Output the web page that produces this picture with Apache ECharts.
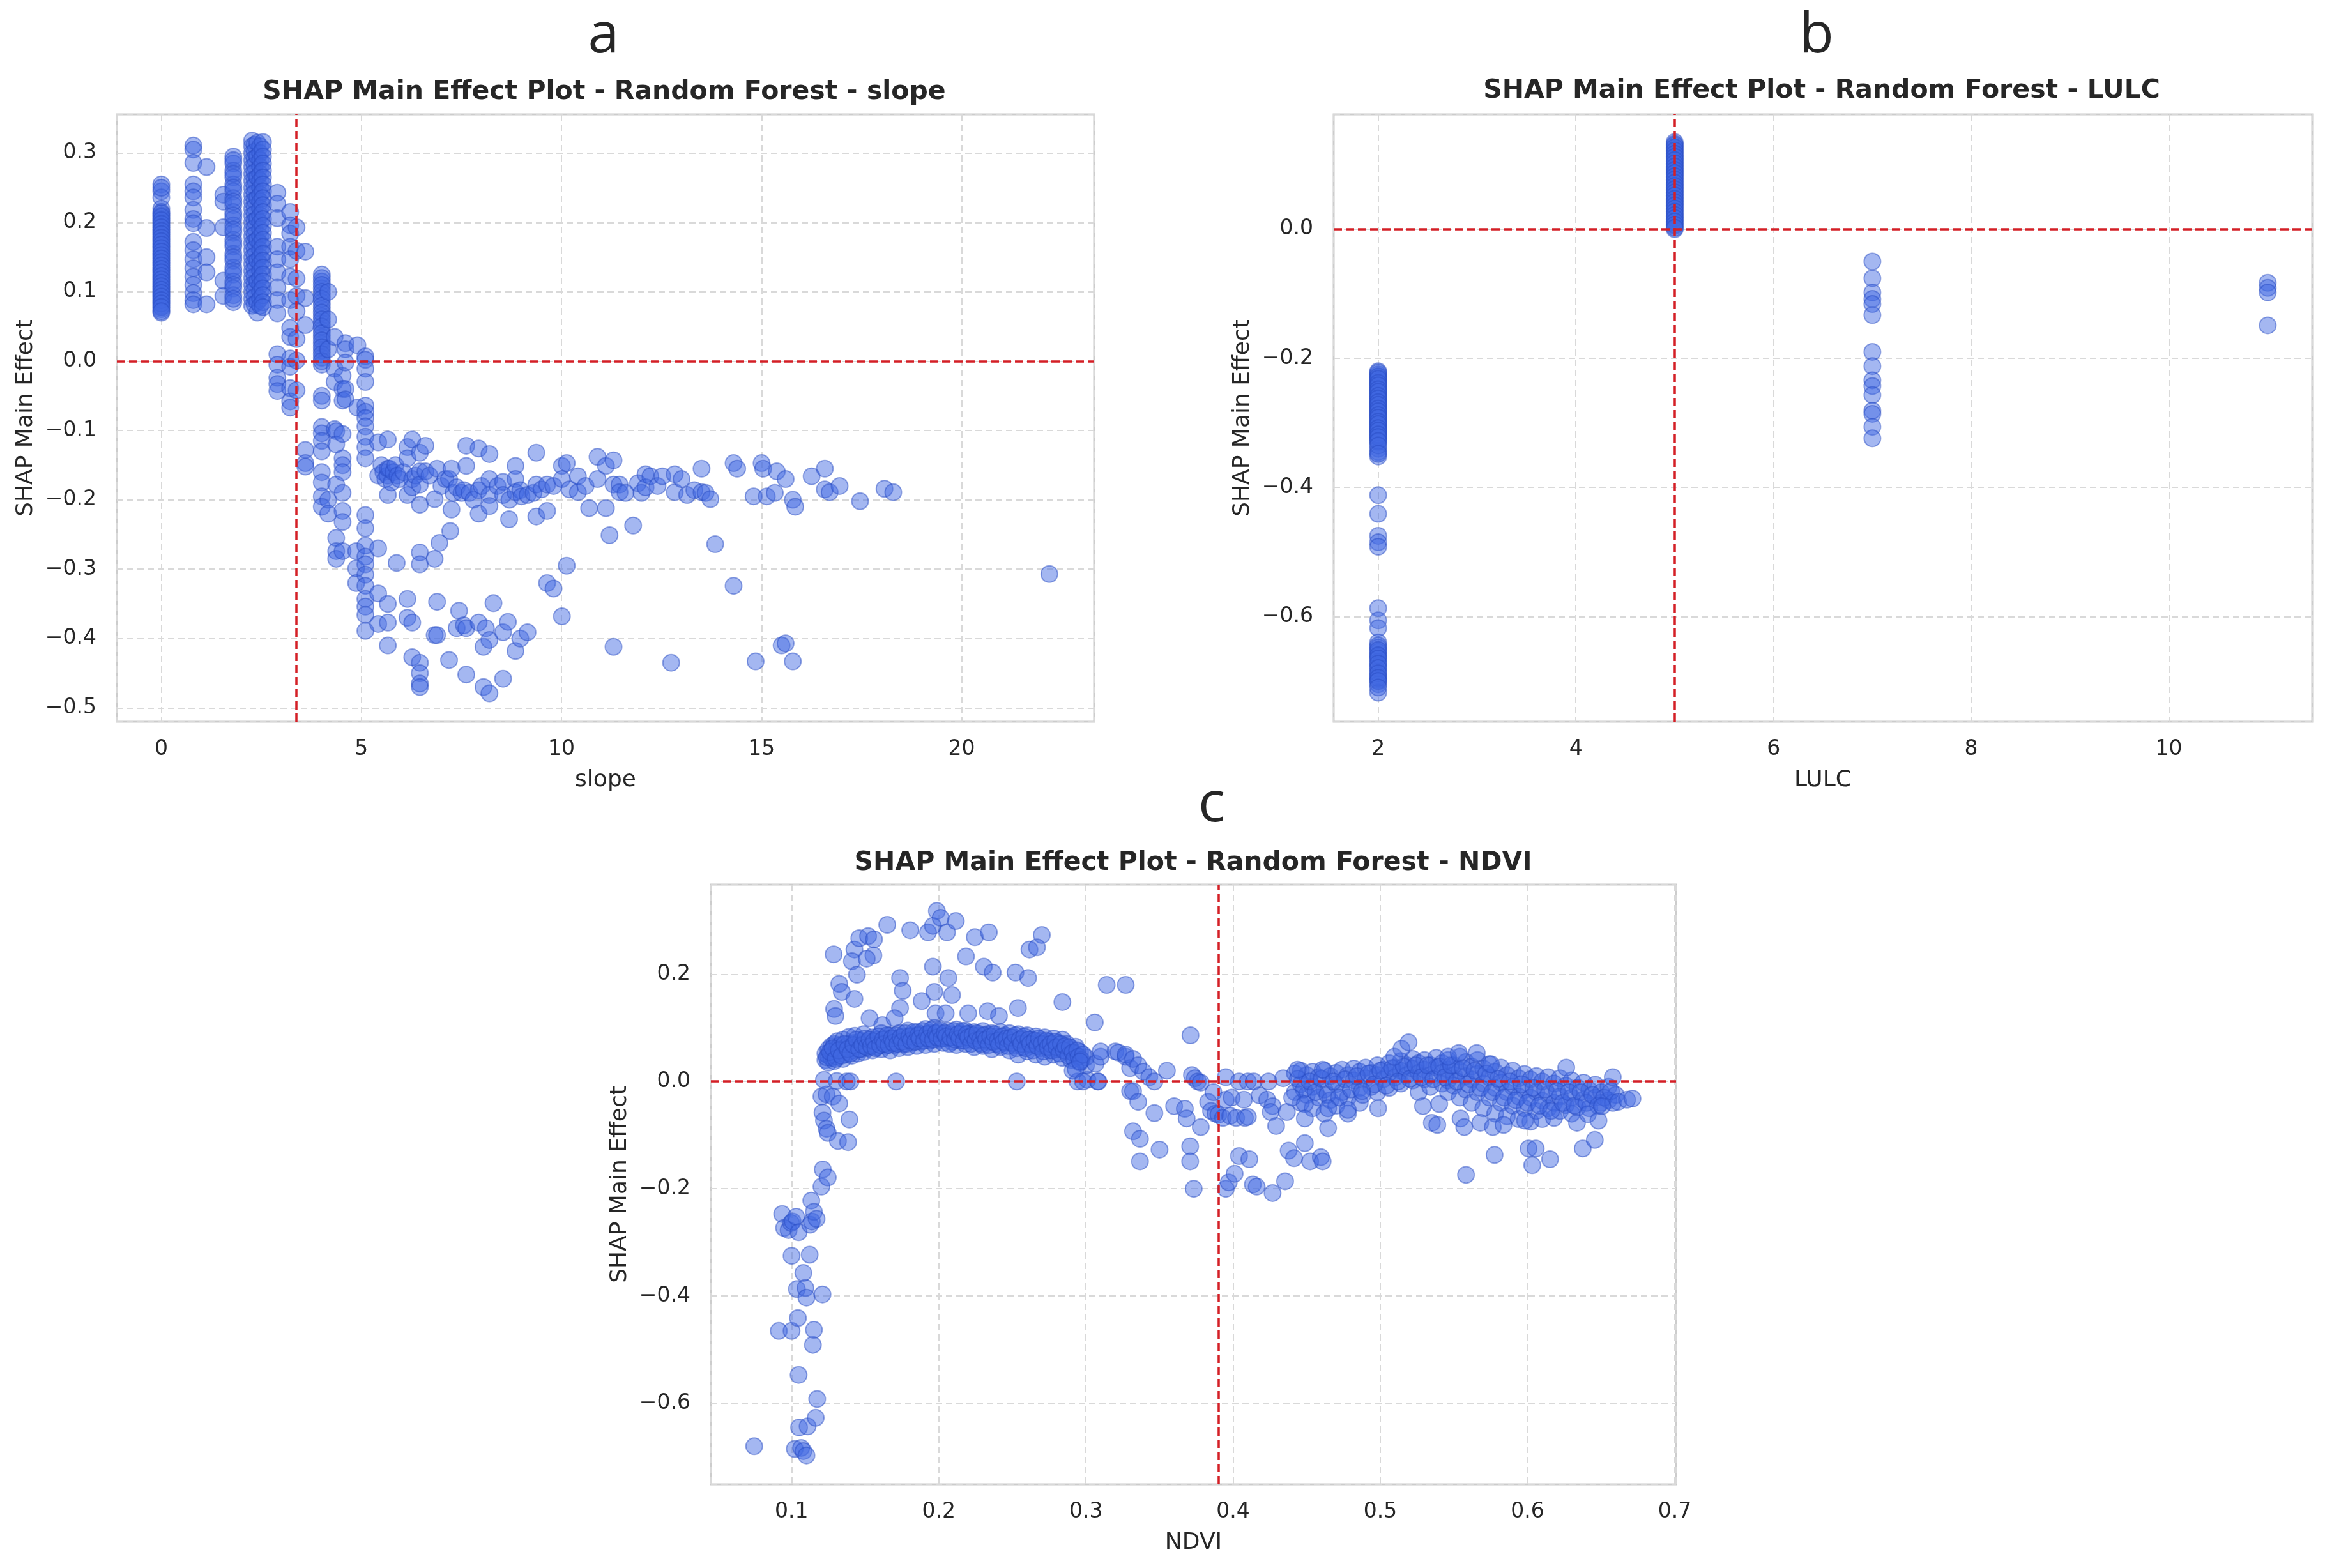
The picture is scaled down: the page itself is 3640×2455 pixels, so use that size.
<!DOCTYPE html>
<html>
<head>
<meta charset="utf-8">
<script src="https://cdn.jsdelivr.net/npm/echarts@6/dist/echarts.min.js"></script>
<style>
html, body { margin: 0; padding: 0; background: #fff; }
#chart { width: 3640px; height: 2455px; }
</style>
</head>
<body>
<div id="chart"></div>
<script>
// ---- panel a : slope, columns of points that share one slope value ----
var slopeColumns = [
    [0, [0.255, 0.245, 0.236, 0.22, 0.215, 0.21, 0.205, 0.2, 0.195, 0.19, 0.185, 0.18, 0.175, 0.17, 0.165, 0.16, 0.155, 0.15, 0.145, 0.14, 0.135, 0.13, 0.125, 0.12, 0.115, 0.11, 0.105, 0.1, 0.095, 0.09, 0.085, 0.08, 0.075, 0.07]],
    [0, [0.25, 0.213, 0.208, 0.203, 0.198, 0.193, 0.188, 0.183, 0.178, 0.173, 0.168, 0.163, 0.158, 0.153, 0.148, 0.143, 0.138, 0.133, 0.128, 0.123, 0.118, 0.113, 0.108, 0.103, 0.098, 0.093, 0.088, 0.083, 0.078, 0.072]],
    [0.8, [0.311, 0.305, 0.286, 0.255, 0.245, 0.236, 0.218, 0.205, 0.199, 0.172, 0.16, 0.147, 0.134, 0.122, 0.11, 0.098, 0.088, 0.082]],
    [1.13, [0.28, 0.192, 0.15, 0.128, 0.082]],
    [1.55, [0.24, 0.23, 0.193, 0.116, 0.094]],
    [1.8, [0.295, 0.285, 0.275, 0.265, 0.255, 0.245, 0.235, 0.225, 0.215, 0.205, 0.196, 0.185, 0.175, 0.165, 0.155, 0.145, 0.135, 0.125, 0.115, 0.105, 0.095, 0.085]],
    [1.8, [0.29, 0.27, 0.25, 0.23, 0.21, 0.19, 0.17, 0.15, 0.13, 0.11, 0.09]],
    [2.27, [0.318, 0.31, 0.3, 0.29, 0.28, 0.27, 0.26, 0.25, 0.24, 0.23, 0.22, 0.21, 0.2, 0.19, 0.18, 0.17, 0.16, 0.15, 0.14, 0.13, 0.12, 0.11, 0.1, 0.09, 0.08]],
    [2.33, [0.312, 0.302, 0.292, 0.282, 0.272, 0.262, 0.252, 0.242, 0.232, 0.222, 0.212, 0.202, 0.192, 0.182, 0.172, 0.162, 0.152, 0.142, 0.132, 0.122, 0.112, 0.102, 0.092, 0.082]],
    [2.4, [0.315, 0.295, 0.265, 0.235, 0.205, 0.175, 0.145, 0.115, 0.085, 0.07]],
    [2.47, [0.31, 0.3, 0.29, 0.28, 0.27, 0.26, 0.25, 0.24, 0.23, 0.22, 0.21, 0.2, 0.19, 0.18, 0.17, 0.16, 0.15, 0.14, 0.13, 0.12, 0.11, 0.1, 0.09, 0.08]],
    [2.54, [0.316, 0.305, 0.295, 0.285, 0.275, 0.265, 0.255, 0.245, 0.235, 0.225, 0.215, 0.205, 0.195, 0.185, 0.175, 0.165, 0.155, 0.145, 0.135, 0.125, 0.115, 0.105, 0.095, 0.085, 0.078]],
    [2.9, [0.243, 0.227, 0.206, 0.165, 0.147, 0.128, 0.106, 0.088, 0.069, 0.01, -0.005, -0.024, -0.033, -0.043]],
    [3.22, [0.215, 0.196, 0.184, 0.165, 0.147, 0.122, 0.088, 0.048, 0.035, 0.004, -0.008, -0.039, -0.058, -0.067]],
    [3.38, [0.193, 0.159, 0.119, 0.094, 0.072, 0.032, 0.001, -0.042]],
    [3.6, [0.158, 0.091, 0.052, -0.128, -0.147, -0.152]],
    [4.01, [0.125, 0.115, 0.105, 0.095, 0.085, 0.075, 0.065, 0.055, 0.045, 0.035, 0.025, 0.015, 0.005, -0.005, -0.05, -0.057, -0.095, -0.104, -0.115, -0.13, -0.16, -0.175, -0.195, -0.21]],
    [4.01, [0.12, 0.11, 0.1, 0.09, 0.08, 0.07, 0.06, 0.05, 0.04, 0.03, 0.02, 0.01, 0.0]],
    [4.17, [0.1, 0.06, 0.017, -0.2, -0.22]],
    [4.33, [0.035, -0.011, -0.03, -0.098]],
    [4.37, [-0.101, -0.12, -0.178, -0.255, -0.274, -0.285]],
    [4.53, [-0.021, -0.04, -0.057, -0.105, -0.14, -0.15, -0.16, -0.19, -0.216, -0.232, -0.274]],
    [4.6, [0.026, 0.017, -0.002, -0.04, -0.055]],
    [4.87, [-0.274, -0.299, -0.32]],
    [4.9, [0.023, -0.067]],
    [5.1, [0.007, 0.002, -0.011, -0.03, -0.064, -0.073, -0.082, -0.094, -0.109, -0.124, -0.14, -0.222, -0.241, -0.266, -0.282, -0.293, -0.308, -0.324, -0.343, -0.354, -0.366, -0.389]]
];

// ---- panel a : scattered points beyond slope 5 ----
var slopeScatter = [
    [5.42, -0.117], [5.42, -0.165], [5.42, -0.27], [5.42, -0.335], [5.42, -0.379],
    [5.5, -0.15], [5.55, -0.16], [5.6, -0.17], [5.65, -0.165], [5.66, -0.113], [5.66, -0.155], [5.66, -0.193],
    [5.66, -0.35], [5.66, -0.377], [5.66, -0.41], [5.7, -0.155], [5.75, -0.175], [5.8, -0.16], [5.85, -0.15],
    [5.88, -0.291], [5.9, -0.165], [5.95, -0.17], [6.05, -0.16],
    [6.15, -0.124], [6.15, -0.14], [6.15, -0.193], [6.15, -0.343], [6.15, -0.37],
    [6.27, -0.113], [6.27, -0.17], [6.27, -0.182], [6.27, -0.377], [6.27, -0.427], [6.35, -0.165],
    [6.46, -0.132], [6.46, -0.159], [6.46, -0.178], [6.46, -0.207], [6.46, -0.276], [6.46, -0.293],
    [6.46, -0.435], [6.46, -0.45], [6.46, -0.465], [6.46, -0.47],
    [6.6, -0.122], [6.6, -0.159], [6.7, -0.165],
    [6.83, -0.199], [6.83, -0.285], [6.83, -0.395], [6.89, -0.155], [6.89, -0.347], [6.89, -0.395], [6.95, -0.262],
    [7.0, -0.18], [7.1, -0.17], [7.19, -0.17], [7.19, -0.431], [7.22, -0.245], [7.25, -0.214], [7.25, -0.155],
    [7.3, -0.19], [7.38, -0.182], [7.38, -0.385], [7.44, -0.36], [7.5, -0.19], [7.56, -0.186], [7.56, -0.381],
    [7.62, -0.122], [7.62, -0.151], [7.62, -0.385], [7.62, -0.452], [7.7, -0.19], [7.8, -0.2],
    [7.93, -0.126], [7.93, -0.186], [7.93, -0.22], [7.93, -0.377], [8.0, -0.18],
    [8.05, -0.412], [8.05, -0.47], [8.11, -0.385],
    [8.2, -0.134], [8.2, -0.17], [8.2, -0.193], [8.2, -0.209], [8.2, -0.402], [8.2, -0.479], [8.3, -0.349], [8.4, -0.18],
    [8.54, -0.174], [8.54, -0.193], [8.54, -0.391], [8.54, -0.458], [8.66, -0.376], [8.69, -0.228], [8.7, -0.2],
    [8.85, -0.151], [8.85, -0.17], [8.85, -0.189], [8.85, -0.418], [8.97, -0.186], [8.97, -0.4], [9.0, -0.195],
    [9.15, -0.193], [9.15, -0.391], [9.3, -0.19], [9.37, -0.132], [9.37, -0.178], [9.37, -0.224], [9.5, -0.185],
    [9.64, -0.178], [9.64, -0.216], [9.64, -0.32], [9.8, -0.328], [9.8, -0.18],
    [10.01, -0.151], [10.01, -0.17], [10.01, -0.368], [10.13, -0.147], [10.13, -0.295], [10.2, -0.185],
    [10.41, -0.166], [10.41, -0.189], [10.6, -0.18], [10.69, -0.212], [10.9, -0.138], [10.9, -0.17],
    [11.11, -0.151], [11.11, -0.212], [11.2, -0.251], [11.3, -0.143], [11.3, -0.178], [11.3, -0.412],
    [11.45, -0.178], [11.45, -0.189], [11.6, -0.19], [11.79, -0.237], [11.91, -0.176], [12.0, -0.19],
    [12.1, -0.163], [12.1, -0.182], [12.22, -0.166], [12.4, -0.18], [12.52, -0.166], [12.74, -0.435],
    [12.83, -0.163], [12.83, -0.189], [13.0, -0.17], [13.14, -0.193], [13.32, -0.186],
    [13.5, -0.155], [13.5, -0.189], [13.6, -0.19], [13.72, -0.199], [13.84, -0.264],
    [14.3, -0.147], [14.39, -0.155], [14.3, -0.324], [14.8, -0.195], [14.85, -0.433],
    [15.0, -0.147], [15.04, -0.155], [15.13, -0.195], [15.38, -0.159], [15.33, -0.19],
    [15.5, -0.41], [15.6, -0.407], [15.6, -0.17], [15.78, -0.2], [15.84, -0.21], [15.78, -0.433],
    [16.25, -0.166], [16.58, -0.155], [16.58, -0.185], [16.7, -0.189], [16.95, -0.18],
    [17.46, -0.202], [18.07, -0.184], [18.29, -0.189], [22.19, -0.307]
];
var slopeCut = 3.37;

// ---- panel b : LULC classes ----
var lulcTwo = [-0.22, -0.225, -0.23, -0.235, -0.24, -0.245, -0.25, -0.255, -0.26, -0.265, -0.27, -0.275, -0.28, -0.285, -0.29,
    -0.295, -0.3, -0.305, -0.31, -0.315, -0.32, -0.325, -0.33, -0.34, -0.345, -0.352, -0.412, -0.441, -0.475, -0.485, -0.492,
    -0.587, -0.606, -0.618, -0.64, -0.648, -0.655, -0.662, -0.67, -0.677, -0.685, -0.692, -0.698, -0.705, -0.718,
    -0.222, -0.228, -0.232, -0.238, -0.242, -0.248, -0.252, -0.258, -0.262, -0.268, -0.272, -0.278, -0.282, -0.288,
    -0.292, -0.298, -0.302, -0.308, -0.312, -0.318, -0.322, -0.328, -0.335, -0.348, -0.645, -0.652, -0.66, -0.665,
    -0.673, -0.68, -0.688, -0.695, -0.7, -0.71];
var lulcFive = [0.135, 0.13, 0.125, 0.12, 0.115, 0.11, 0.105, 0.1, 0.095, 0.09, 0.085, 0.08, 0.075, 0.07, 0.065, 0.06,
    0.055, 0.05, 0.045, 0.04, 0.035, 0.03, 0.025, 0.02, 0.015, 0.01, 0.005, 0.0,
    0.132, 0.127, 0.122, 0.117, 0.112, 0.107, 0.102, 0.097, 0.092, 0.087, 0.082, 0.077, 0.072, 0.067, 0.062, 0.057,
    0.052, 0.047, 0.042, 0.037, 0.032, 0.027, 0.022, 0.017, 0.012, 0.007, 0.002];
var lulcSeven = [-0.05, -0.076, -0.098, -0.108, -0.116, -0.133, -0.19, -0.212, -0.234, -0.243, -0.257, -0.281, -0.286, -0.306, -0.324];
var lulcEleven = [-0.083, -0.091, -0.098, -0.149];
var lulcCut = 5;

// ---- panel c : NDVI ----
var ndviTail = [
    [0.0746, -0.68], [0.0913, -0.465], [0.0936, -0.247], [0.0949, -0.273], [0.098, -0.277], [0.0997, -0.264],
    [0.1, -0.325], [0.1, -0.465], [0.1007, -0.261], [0.1022, -0.685], [0.1031, -0.252], [0.1036, -0.387],
    [0.1043, -0.441], [0.1048, -0.281], [0.1048, -0.547], [0.1051, -0.645], [0.1065, -0.683], [0.108, -0.357],
    [0.108, -0.689], [0.1094, -0.385], [0.1101, -0.403], [0.1101, -0.697], [0.1109, -0.643], [0.1123, -0.323],
    [0.1126, -0.267], [0.1134, -0.222], [0.1138, -0.261], [0.1145, -0.491], [0.1152, -0.463], [0.1152, -0.243],
    [0.1164, -0.627], [0.117, -0.256], [0.1174, -0.592], [0.1203, -0.196], [0.121, -0.397], [0.1212, -0.164],
    [0.1246, -0.179], [0.1203, -0.028], [0.1238, -0.024], [0.128, -0.028], [0.1324, -0.041], [0.121, -0.058],
    [0.122, -0.073], [0.1238, -0.088], [0.1246, -0.096], [0.1393, -0.071], [0.1315, -0.111], [0.1384, -0.113]
];
var ndviNearZero = [
    [0.122, 0.003], [0.1307, 0.001], [0.1375, 0], [0.14, 0], [0.171, 0], [0.253, 0], [0.2943, 0], [0.301, 0.003], [0.308, 0]
];
var ndviUpper = [
    [0.1286, 0.237], [0.1427, 0.246], [0.141, 0.224], [0.146, 0.267], [0.152, 0.271], [0.156, 0.265], [0.1556, 0.235],
    [0.151, 0.229], [0.1444, 0.199], [0.165, 0.292], [0.1806, 0.282], [0.1927, 0.278], [0.196, 0.29], [0.1987, 0.318],
    [0.2013, 0.305], [0.2056, 0.278], [0.2116, 0.299], [0.2245, 0.269], [0.234, 0.278], [0.27, 0.273], [0.2616, 0.246],
    [0.2667, 0.25], [0.2185, 0.233], [0.2306, 0.214], [0.2366, 0.203], [0.196, 0.214], [0.2521, 0.203], [0.2607, 0.193],
    [0.1737, 0.193], [0.2065, 0.193], [0.1324, 0.182], [0.1341, 0.167], [0.1427, 0.154], [0.1755, 0.169], [0.197, 0.167],
    [0.209, 0.161], [0.1884, 0.15], [0.1289, 0.135], [0.1298, 0.122], [0.1737, 0.137], [0.284, 0.148], [0.2538, 0.137],
    [0.2332, 0.131], [0.2409, 0.122], [0.3141, 0.18], [0.327, 0.18], [0.306, 0.11], [0.153, 0.118], [0.1617, 0.105],
    [0.17, 0.118], [0.1978, 0.127], [0.2047, 0.127], [0.22, 0.127], [0.371, 0.086]
];
var ndviBandLeft = [
    [0.123, 0.04], [0.123, 0.052], [0.125, 0.035], [0.125, 0.048], [0.125, 0.06], [0.127, 0.044], [0.127, 0.058], [0.127, 0.066],
    [0.129, 0.038], [0.129, 0.05], [0.129, 0.07], [0.131, 0.046], [0.131, 0.062], [0.131, 0.075], [0.133, 0.052], [0.133, 0.068],
    [0.135, 0.042], [0.135, 0.058], [0.135, 0.078], [0.137, 0.05], [0.137, 0.064], [0.139, 0.055], [0.139, 0.07], [0.139, 0.083],
    [0.141, 0.048], [0.141, 0.062], [0.143, 0.058], [0.143, 0.072], [0.143, 0.085], [0.145, 0.052], [0.145, 0.066],
    [0.147, 0.06], [0.147, 0.076], [0.149, 0.055], [0.149, 0.07], [0.149, 0.088], [0.152, 0.062], [0.152, 0.074],
    [0.155, 0.058], [0.155, 0.07], [0.155, 0.082], [0.158, 0.064], [0.158, 0.078], [0.161, 0.06], [0.161, 0.072], [0.161, 0.09],
    [0.164, 0.066], [0.164, 0.08], [0.167, 0.058], [0.167, 0.074], [0.167, 0.086], [0.17, 0.068], [0.17, 0.08],
    [0.173, 0.062], [0.173, 0.076], [0.173, 0.09], [0.176, 0.07], [0.176, 0.084], [0.179, 0.064], [0.179, 0.078], [0.179, 0.095],
    [0.182, 0.072], [0.182, 0.086], [0.185, 0.066], [0.185, 0.08], [0.185, 0.092], [0.188, 0.074], [0.188, 0.088],
    [0.191, 0.068], [0.191, 0.082], [0.191, 0.098], [0.194, 0.076], [0.194, 0.09], [0.197, 0.07], [0.197, 0.085], [0.197, 0.1],
    [0.2, 0.078], [0.2, 0.092], [0.203, 0.072], [0.203, 0.086], [0.206, 0.08], [0.206, 0.095], [0.209, 0.074], [0.209, 0.088],
    [0.212, 0.068], [0.212, 0.082], [0.212, 0.097], [0.215, 0.076], [0.215, 0.09], [0.218, 0.07], [0.218, 0.084], [0.218, 0.095],
    [0.221, 0.078], [0.221, 0.09], [0.224, 0.064], [0.224, 0.08], [0.224, 0.092], [0.227, 0.072], [0.227, 0.086],
    [0.23, 0.066], [0.23, 0.08], [0.23, 0.094], [0.233, 0.074], [0.233, 0.088], [0.236, 0.06], [0.236, 0.078], [0.236, 0.09],
    [0.239, 0.07], [0.239, 0.084], [0.242, 0.064], [0.242, 0.078], [0.242, 0.092], [0.245, 0.072], [0.245, 0.086],
    [0.248, 0.058], [0.248, 0.076], [0.248, 0.09], [0.251, 0.068], [0.251, 0.082], [0.254, 0.05], [0.254, 0.074], [0.254, 0.088],
    [0.257, 0.064], [0.257, 0.08], [0.26, 0.056], [0.26, 0.072], [0.26, 0.086], [0.263, 0.066], [0.263, 0.078],
    [0.266, 0.05], [0.266, 0.07], [0.266, 0.084], [0.269, 0.062], [0.269, 0.076], [0.272, 0.046], [0.272, 0.068], [0.272, 0.082],
    [0.275, 0.058], [0.275, 0.074], [0.278, 0.05], [0.278, 0.066], [0.278, 0.08], [0.281, 0.06], [0.281, 0.072],
    [0.284, 0.044], [0.284, 0.064], [0.284, 0.078], [0.287, 0.056], [0.287, 0.07], [0.29, 0.04], [0.29, 0.06],
    [0.293, 0.05], [0.293, 0.065], [0.296, 0.035], [0.296, 0.055], [0.3, 0.03], [0.3, 0.045]
];
var ndviBandLeftFill = [
    [0.124, 0.045], [0.126, 0.055], [0.128, 0.062], [0.13, 0.042], [0.132, 0.058], [0.134, 0.048], [0.136, 0.07], [0.138, 0.06],
    [0.14, 0.052], [0.142, 0.068], [0.144, 0.078], [0.146, 0.06], [0.148, 0.068], [0.15, 0.08], [0.151, 0.064], [0.153, 0.078],
    [0.154, 0.066], [0.156, 0.075], [0.157, 0.062], [0.159, 0.084], [0.16, 0.068], [0.162, 0.078], [0.163, 0.07], [0.165, 0.086],
    [0.166, 0.068], [0.168, 0.08], [0.169, 0.072], [0.171, 0.086], [0.172, 0.07], [0.174, 0.082], [0.175, 0.074], [0.177, 0.09],
    [0.178, 0.07], [0.18, 0.084], [0.181, 0.076], [0.183, 0.092], [0.184, 0.074], [0.186, 0.086], [0.187, 0.08], [0.189, 0.094],
    [0.19, 0.076], [0.192, 0.088], [0.193, 0.08], [0.195, 0.096], [0.196, 0.078], [0.198, 0.09], [0.199, 0.082], [0.201, 0.096],
    [0.202, 0.08], [0.204, 0.09], [0.205, 0.084], [0.207, 0.07], [0.208, 0.082], [0.21, 0.094], [0.211, 0.078], [0.213, 0.088],
    [0.214, 0.08], [0.216, 0.094], [0.217, 0.076], [0.219, 0.088], [0.22, 0.082], [0.222, 0.07], [0.223, 0.086], [0.225, 0.076],
    [0.226, 0.09], [0.228, 0.078], [0.229, 0.07], [0.231, 0.086], [0.232, 0.078], [0.234, 0.068], [0.235, 0.084], [0.237, 0.074],
    [0.238, 0.088], [0.24, 0.076], [0.241, 0.068], [0.243, 0.084], [0.244, 0.074], [0.246, 0.08], [0.247, 0.066], [0.249, 0.082],
    [0.25, 0.072], [0.252, 0.086], [0.253, 0.062], [0.255, 0.078], [0.256, 0.07], [0.258, 0.084], [0.259, 0.062], [0.261, 0.078],
    [0.262, 0.07], [0.264, 0.058], [0.265, 0.076], [0.267, 0.066], [0.268, 0.08], [0.27, 0.07], [0.271, 0.056], [0.273, 0.076],
    [0.274, 0.064], [0.276, 0.07], [0.277, 0.058], [0.279, 0.074], [0.28, 0.064], [0.282, 0.052], [0.283, 0.07], [0.285, 0.058],
    [0.286, 0.066], [0.288, 0.048], [0.289, 0.064], [0.291, 0.054], [0.292, 0.042], [0.294, 0.058], [0.295, 0.046], [0.297, 0.04],
    [0.298, 0.05]
];
var ndviMid = [
    [0.291, 0.02], [0.293, 0.023], [0.296, 0.037], [0.298, 0], [0.3065, 0.033], [0.3084, 0], [0.31, 0.046], [0.31, 0.056],
    [0.32, 0.056], [0.322, 0.054], [0.327, 0.046], [0.33, 0.025], [0.33, -0.018],
    [0.327, 0.05], [0.332, 0.042], [0.3355, 0.03], [0.339, 0.018], [0.343, 0.008], [0.3465, 0], [0.355, 0.02],
    [0.332, -0.018], [0.3355, -0.038], [0.3465, -0.059], [0.3599, -0.046], [0.3672, -0.051], [0.3684, -0.069],
    [0.378, -0.085], [0.332, -0.093], [0.3367, -0.107], [0.35, -0.127], [0.3367, -0.149], [0.3708, -0.121],
    [0.3708, -0.149], [0.3732, -0.2], [0.372, 0.012], [0.374, 0.006], [0.376, 0], [0.378, -0.002], [0.383, -0.038],
    [0.3866, -0.02], [0.385, -0.055], [0.388, -0.06], [0.39, -0.062], [0.393, -0.068], [0.398, -0.064], [0.402, -0.068],
    [0.408, -0.068], [0.41, -0.066], [0.395, 0.008], [0.395, -0.034], [0.399, -0.03], [0.395, -0.2], [0.397, -0.188],
    [0.401, -0.172], [0.404, -0.139], [0.411, -0.145], [0.4134, -0.192], [0.416, -0.196], [0.4268, -0.208],
    [0.4353, -0.186], [0.404, 0], [0.41, 0], [0.414, 0], [0.424, 0], [0.434, 0.006], [0.4073, -0.034], [0.418, -0.026],
    [0.4231, -0.034], [0.4268, -0.046], [0.4255, -0.057], [0.4292, -0.083], [0.4365, -0.057], [0.4377, -0.129],
    [0.4414, -0.143], [0.4487, -0.115], [0.4523, -0.149], [0.4596, -0.141], [0.4608, -0.149]
];
var ndviBandRight = [
    [0.442, 0.015], [0.442, -0.02], [0.446, 0.02], [0.446, -0.005], [0.446, -0.04], [0.45, 0.012], [0.45, -0.025],
    [0.454, 0.018], [0.454, -0.01], [0.454, -0.05], [0.458, 0.008], [0.458, -0.03], [0.462, 0.02], [0.462, -0.015], [0.462, -0.06],
    [0.466, 0.01], [0.466, -0.035], [0.47, 0.016], [0.47, -0.005], [0.47, -0.045], [0.474, 0.022], [0.474, -0.02],
    [0.478, 0.012], [0.478, -0.03], [0.478, -0.06], [0.482, 0.024], [0.482, 0.002], [0.486, 0.018], [0.486, -0.012], [0.486, -0.04],
    [0.49, 0.026], [0.49, 0.006], [0.494, 0.016], [0.494, -0.01], [0.498, 0.03], [0.498, 0.012], [0.498, -0.02],
    [0.502, 0.022], [0.502, 0.004], [0.506, 0.034], [0.506, 0.016], [0.506, -0.012], [0.51, 0.026], [0.51, 0.008],
    [0.514, 0.038], [0.514, 0.02], [0.514, -0.004], [0.518, 0.03], [0.518, 0.012], [0.522, 0.042], [0.522, 0.024], [0.522, 0.002],
    [0.526, 0.034], [0.526, 0.016], [0.526, -0.02], [0.53, 0.04], [0.53, 0.022], [0.53, 0.004], [0.534, 0.03], [0.534, 0.012],
    [0.534, -0.01], [0.538, 0.044], [0.538, 0.026], [0.542, 0.034], [0.542, 0.016], [0.542, -0.004],
    [0.546, 0.04], [0.546, 0.022], [0.546, 0.002], [0.546, -0.02], [0.55, 0.03], [0.55, 0.012], [0.55, -0.008],
    [0.554, 0.046], [0.554, 0.02], [0.554, -0.03], [0.558, 0.036], [0.558, 0.01], [0.558, -0.015], [0.562, 0.028], [0.562, 0.004],
    [0.562, -0.04], [0.566, 0.04], [0.566, 0.014], [0.566, -0.02], [0.57, 0.024], [0.57, -0.004], [0.57, -0.05],
    [0.574, 0.032], [0.574, 0.008], [0.574, -0.03], [0.578, 0.018], [0.578, -0.012], [0.578, -0.06], [0.582, 0.026], [0.582, -0.002],
    [0.582, -0.04], [0.586, 0.012], [0.586, -0.02], [0.586, -0.065], [0.59, 0.02], [0.59, -0.01], [0.59, -0.045],
    [0.594, 0.006], [0.594, -0.028], [0.594, -0.07], [0.598, 0.014], [0.598, -0.016], [0.598, -0.05], [0.602, 0.004], [0.602, -0.03],
    [0.602, -0.075], [0.606, 0.01], [0.606, -0.02], [0.606, -0.055], [0.61, 0.0], [0.61, -0.036], [0.61, -0.07],
    [0.614, 0.008], [0.614, -0.024], [0.614, -0.05], [0.618, -0.004], [0.618, -0.04], [0.618, -0.068], [0.622, 0.006], [0.622, -0.028],
    [0.622, -0.055], [0.626, -0.008], [0.626, -0.044], [0.63, 0.002], [0.63, -0.03], [0.63, -0.06], [0.634, -0.012], [0.634, -0.048],
    [0.638, -0.002], [0.638, -0.034], [0.642, -0.016], [0.642, -0.05], [0.646, -0.006], [0.646, -0.03], [0.65, -0.02], [0.65, -0.04],
    [0.655, -0.01], [0.655, -0.035], [0.66, -0.025]
];
var ndviBandRightFill = [
    [0.444, 0.005], [0.448, -0.015], [0.452, 0.0], [0.456, -0.02], [0.46, 0.005], [0.464, -0.025], [0.468, 0.0], [0.472, -0.03],
    [0.476, 0.004], [0.48, -0.015], [0.484, 0.01], [0.488, -0.025], [0.492, 0.015], [0.496, -0.005], [0.5, 0.02], [0.504, -0.008],
    [0.508, 0.025], [0.512, 0.0], [0.516, 0.028], [0.52, 0.005], [0.524, 0.03], [0.528, 0.008], [0.532, 0.03], [0.536, 0.004],
    [0.54, 0.028], [0.544, 0.008], [0.548, 0.03], [0.552, 0.0], [0.556, 0.025], [0.56, -0.005], [0.564, 0.02], [0.568, -0.012],
    [0.572, 0.015], [0.576, -0.02], [0.58, 0.005], [0.584, -0.03], [0.588, 0.0], [0.592, -0.035], [0.596, -0.005], [0.6, -0.04],
    [0.604, -0.012], [0.608, -0.045], [0.612, -0.015], [0.616, -0.055], [0.62, -0.018], [0.624, -0.04], [0.628, -0.02],
    [0.632, -0.045], [0.636, -0.02], [0.64, -0.04], [0.644, -0.025], [0.648, -0.045], [0.652, -0.03], [0.658, -0.04]
];
var ndviRight = [
    [0.4438, 0.022], [0.4401, -0.03], [0.4487, -0.042], [0.4487, -0.069], [0.4608, 0.022], [0.4645, -0.05], [0.4645, -0.087],
    [0.4779, -0.053], [0.4876, -0.018], [0.4985, -0.05], [0.5095, 0.046], [0.5144, 0.061], [0.5192, 0.073], [0.529, -0.046],
    [0.535, -0.077], [0.5387, -0.081], [0.54, -0.042], [0.546, 0.046], [0.5533, 0.053], [0.5545, -0.069], [0.557, -0.085],
    [0.5582, -0.174], [0.5655, 0.053], [0.5679, -0.077], [0.5752, 0.032], [0.5764, -0.085], [0.5776, -0.137], [0.5837, -0.081],
    [0.5983, -0.073], [0.6007, -0.125], [0.6056, -0.125], [0.6032, -0.156], [0.6153, -0.145], [0.6263, 0.026], [0.6336, -0.077],
    [0.6375, -0.125], [0.6457, -0.109], [0.641, -0.061], [0.6482, -0.073], [0.6506, -0.046], [0.6567, -0.018], [0.6579, 0.008],
    [0.6616, -0.038], [0.6676, -0.034], [0.6713, -0.032]
];
var ndviCut = 0.394;

// tick label text, matplotlib style minus sign
function tickFmt(v) {
    var s = Math.abs(v).toFixed(1);
    return v < -1e-9 ? '\u2212' + s : s;
}
function intFmt(v) {
    return String(Math.round(v));
}

var FONT = '"DejaVu Sans", "Liberation Sans", sans-serif';
var TXT = '#262626';

function xAx(idx, name, min, max, step, fmt) {
    return {
        type: 'value', gridIndex: idx, min: min, max: max, minInterval: step, maxInterval: step,
        name: name, nameLocation: 'middle', nameGap: 74,
        nameTextStyle: { fontFamily: FONT, fontSize: 36, color: TXT },
        axisLine: { show: false }, axisTick: { show: false },
        axisLabel: { fontFamily: FONT, fontSize: 33, color: TXT, margin: 27, formatter: fmt, showMinLabel: false, showMaxLabel: false },
        splitLine: { show: true, lineStyle: { color: '#d9d9d9', width: 2, type: [10, 6] } }
    };
}
function yAx(idx, min, max, step) {
    return {
        type: 'value', gridIndex: idx, min: min, max: max, minInterval: step, maxInterval: step,
        name: 'SHAP Main Effect', nameLocation: 'middle', nameGap: 124,
        nameTextStyle: { fontFamily: FONT, fontSize: 36, color: TXT },
        axisLine: { show: false }, axisTick: { show: false },
        axisLabel: { fontFamily: FONT, fontSize: 33, color: TXT, margin: 32, formatter: tickFmt, showMinLabel: false, showMaxLabel: false },
        splitLine: { show: true, lineStyle: { color: '#d9d9d9', width: 2, type: [10, 6] } }
    };
}

function pointsSeries(idx, data, cutX) {
    return {
        type: 'scatter', xAxisIndex: idx, yAxisIndex: idx, data: data, symbolSize: 26,
        itemStyle: { color: 'rgba(65,105,225,0.6)', borderColor: 'rgba(40,75,195,0.6)', borderWidth: 2 },
        markLine: {
            silent: true, symbol: ['none', 'none'], label: { show: false }, animation: false,
            lineStyle: { color: '#d41f26', width: 3.5, type: [13, 6], opacity: 1 },
            data: [{ xAxis: cutX }, { yAxis: 0 }]
        }
    };
}

// flatten the column lists into [x, y] points
var slopeData = [];
slopeColumns.forEach(function (c) {
    c[1].forEach(function (v) { slopeData.push([c[0], v]); });
});
slopeData = slopeData.concat(slopeScatter);

var lulcData = [];
[[2, lulcTwo], [5, lulcFive], [7, lulcSeven], [11, lulcEleven]].forEach(function (c) {
    c[1].forEach(function (v) { lulcData.push([c[0], v]); });
});

var ndviData = [].concat(ndviTail, ndviNearZero, ndviUpper, ndviBandLeft, ndviBandLeftFill, ndviMid,
    ndviBandRight, ndviBandRightFill, ndviRight);

var gridStyle = { show: true, borderColor: '#cccccc', borderWidth: 3, backgroundColor: 'transparent' };

function label(txt, x, y, font) {
    return { type: 'text', x: x, y: y, style: { text: txt, font: font, fill: TXT, textAlign: 'center', textVerticalAlign: 'middle' } };
}

var chart = echarts.init(document.getElementById('chart'), null, { renderer: 'canvas', width: 3640, height: 2455 });
chart.setOption({
    animation: false,
    backgroundColor: '#ffffff',
    grid: [
        Object.assign({ left: 183, top: 179, width: 1530, height: 951 }, gridStyle),
        Object.assign({ left: 2088, top: 179, width: 1532, height: 951 }, gridStyle),
        Object.assign({ left: 1113, top: 1385, width: 1511, height: 939 }, gridStyle)
    ],
    xAxis: [
        xAx(0, 'slope', -1.11, 23.31, 5, intFmt),
        xAx(1, 'LULC', 1.55, 11.45, 2, intFmt),
        xAx(2, 'NDVI', 0.0452, 0.7009, 0.1, tickFmt)
    ],
    yAxis: [
        yAx(0, -0.52, 0.356, 0.1),
        yAx(1, -0.763, 0.178, 0.2),
        yAx(2, -0.751, 0.367, 0.2)
    ],
    graphic: [
        label('a', 945, 57, '88px "Open Sans", sans-serif'),
        label('b', 2844, 57, '88px "Open Sans", sans-serif'),
        label('c', 1897, 1261, '88px "Open Sans", sans-serif'),
        label('SHAP Main Effect Plot - Random Forest - slope', 946, 144, 'bold 41px ' + FONT),
        label('SHAP Main Effect Plot - Random Forest - LULC', 2852, 142, 'bold 41px ' + FONT),
        label('SHAP Main Effect Plot - Random Forest - NDVI', 1868, 1351, 'bold 41px ' + FONT)
    ],
    series: [
        pointsSeries(0, slopeData, slopeCut),
        pointsSeries(1, lulcData, lulcCut),
        pointsSeries(2, ndviData, ndviCut)
    ]
});
</script>
</body>
</html>
